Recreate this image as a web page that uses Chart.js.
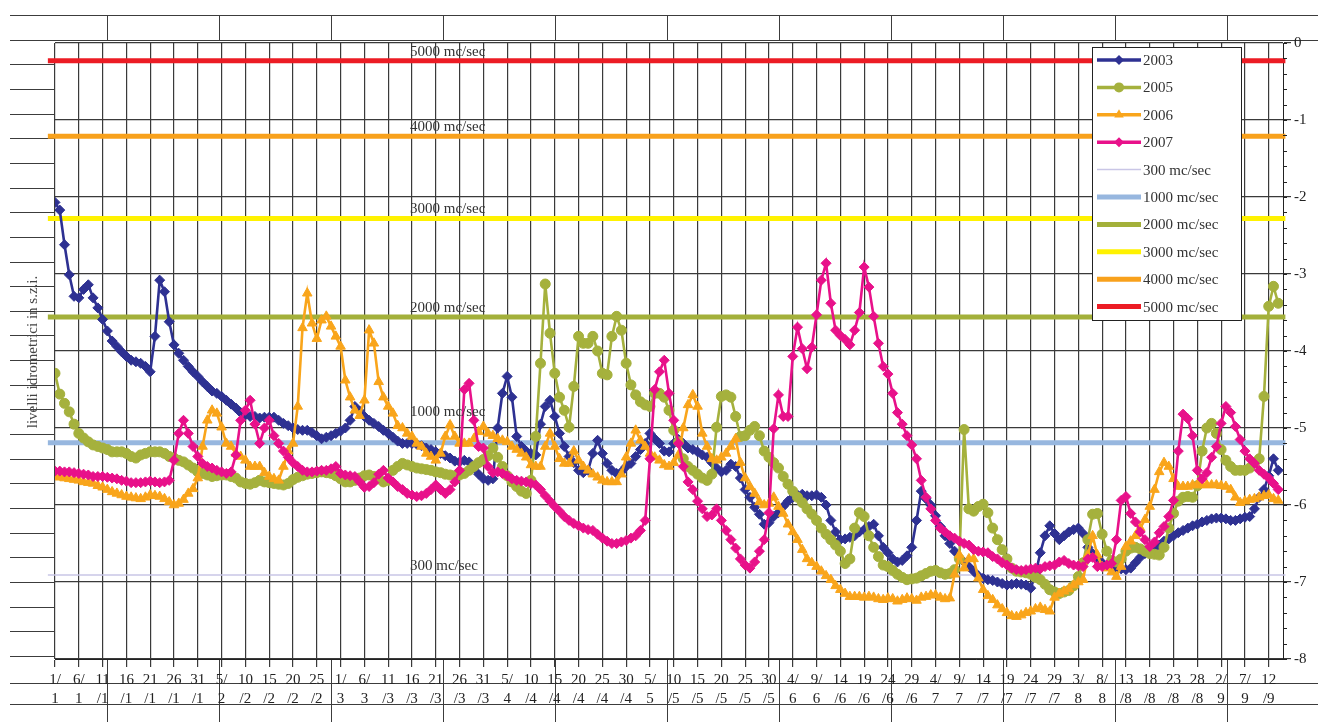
<!DOCTYPE html>
<html>
<head>
<meta charset="utf-8">
<script src="https://cdn.jsdelivr.net/npm/chart.js@4.4.1/dist/chart.umd.min.js"></script>
<style>
  html, body { margin: 0; padding: 0; background: #fff; }
  #wrap { width: 1318px; height: 722px; }
</style>
</head>
<body>
<div id="wrap"><canvas id="levels" width="1318" height="722"></canvas></div>
<script>
// date labels, one every 5 days starting from 1 January
const dateLabels = ['1/1','6/1','11/1','16/1','21/1','26/1','31/1','5/2','10/2','15/2','20/2','25/2',
  '1/3','6/3','11/3','16/3','21/3','26/3','31/3','5/4','10/4','15/4','20/4','25/4','30/4',
  '5/5','10/5','15/5','20/5','25/5','30/5','4/6','9/6','14/6','19/6','24/6','29/6',
  '4/7','9/7','14/7','19/7','24/7','29/7','3/8','8/8','13/8','18/8','23/8','28/8','2/9','7/9','12/9'];

// daily water levels (m), day 0 = 1 January
const y2003 = [
  -2.07,-2.17,-2.62,-3.01,-3.29,-3.31,-3.20,-3.14,-3.31,-3.44,
  -3.59,-3.74,-3.87,-3.94,-4.01,-4.07,-4.12,-4.14,-4.16,-4.20,
  -4.27,-3.81,-3.08,-3.23,-3.62,-3.92,-4.03,-4.12,-4.20,-4.27,
  -4.33,-4.40,-4.46,-4.52,-4.55,-4.59,-4.64,-4.69,-4.74,-4.80,
  -4.83,-4.85,-4.85,-4.87,-4.86,-4.86,-4.86,-4.90,-4.94,-4.97,
  -5.00,-5.02,-5.03,-5.03,-5.06,-5.10,-5.14,-5.12,-5.10,-5.07,
  -5.04,-5.00,-4.90,-4.72,-4.78,-4.85,-4.90,-4.94,-4.98,-5.03,
  -5.07,-5.12,-5.17,-5.20,-5.20,-5.20,-5.21,-5.23,-5.26,-5.28,
  -5.31,-5.33,-5.36,-5.39,-5.43,-5.44,-5.42,-5.44,-5.52,-5.60,
  -5.66,-5.68,-5.66,-5.00,-4.55,-4.33,-4.60,-5.11,-5.24,-5.30,
  -5.33,-5.35,-4.95,-4.72,-4.64,-4.85,-5.07,-5.24,-5.37,-5.45,
  -5.55,-5.58,-5.55,-5.33,-5.16,-5.33,-5.46,-5.55,-5.59,-5.57,
  -5.50,-5.46,-5.37,-5.28,-5.20,-5.07,-5.14,-5.20,-5.30,-5.31,
  -5.20,-5.15,-5.20,-5.26,-5.28,-5.31,-5.35,-5.38,-5.45,-5.52,
  -5.57,-5.55,-5.47,-5.50,-5.65,-5.80,-5.90,-6.03,-6.12,-6.25,
  -6.23,-6.15,-6.10,-6.02,-5.95,-5.90,-5.87,-5.86,-5.88,-5.88,
  -5.87,-5.90,-6.00,-6.20,-6.35,-6.45,-6.44,-6.42,-6.40,-6.35,
  -6.32,-6.28,-6.25,-6.40,-6.55,-6.62,-6.70,-6.74,-6.72,-6.66,
  -6.55,-6.20,-5.82,-5.92,-6.00,-6.14,-6.28,-6.40,-6.50,-6.60,
  -6.68,-6.74,-6.80,-6.86,-6.92,-6.95,-6.97,-6.98,-7.00,-7.02,
  -7.04,-7.03,-7.02,-7.03,-7.04,-7.08,-6.90,-6.62,-6.40,-6.27,
  -6.37,-6.45,-6.40,-6.35,-6.32,-6.30,-6.37,-6.55,-6.63,-6.70,
  -6.75,-6.78,-6.80,-6.82,-6.83,-6.84,-6.82,-6.75,-6.68,-6.63,
  -6.58,-6.55,-6.52,-6.47,-6.44,-6.40,-6.36,-6.33,-6.30,-6.27,
  -6.25,-6.22,-6.20,-6.18,-6.17,-6.17,-6.18,-6.20,-6.20,-6.18,
  -6.16,-6.15,-6.05,-5.90,-5.80,-5.62,-5.40,-5.55
];
const y2005 = [
  -4.29,-4.56,-4.68,-4.79,-4.95,-5.07,-5.13,-5.18,-5.22,-5.24,
  -5.26,-5.28,-5.31,-5.31,-5.31,-5.33,-5.37,-5.39,-5.35,-5.33,
  -5.31,-5.31,-5.31,-5.33,-5.37,-5.39,-5.42,-5.44,-5.48,-5.52,
  -5.57,-5.59,-5.61,-5.63,-5.62,-5.61,-5.61,-5.63,-5.65,-5.70,
  -5.72,-5.73,-5.71,-5.68,-5.70,-5.71,-5.72,-5.73,-5.74,-5.72,
  -5.67,-5.64,-5.62,-5.60,-5.59,-5.58,-5.57,-5.58,-5.59,-5.62,
  -5.66,-5.70,-5.70,-5.68,-5.65,-5.62,-5.61,-5.63,-5.66,-5.70,
  -5.68,-5.55,-5.50,-5.46,-5.48,-5.50,-5.52,-5.53,-5.54,-5.55,
  -5.57,-5.58,-5.60,-5.61,-5.62,-5.61,-5.59,-5.55,-5.50,-5.45,
  -5.41,-5.36,-5.26,-5.38,-5.50,-5.62,-5.70,-5.76,-5.82,-5.85,
  -5.68,-5.11,-4.16,-3.13,-3.77,-4.29,-4.60,-4.77,-4.99,-4.46,
  -3.81,-3.90,-3.90,-3.81,-4.00,-4.29,-4.31,-3.81,-3.55,-3.73,
  -4.16,-4.44,-4.57,-4.66,-4.70,-4.72,-4.55,-4.55,-4.60,-4.77,
  -5.03,-5.18,-5.40,-5.50,-5.55,-5.60,-5.65,-5.68,-5.60,-4.99,
  -4.59,-4.57,-4.60,-4.85,-5.11,-5.10,-5.03,-4.98,-5.10,-5.30,
  -5.38,-5.45,-5.52,-5.63,-5.73,-5.82,-5.90,-5.97,-6.05,-6.12,
  -6.20,-6.30,-6.38,-6.45,-6.52,-6.60,-6.76,-6.70,-6.30,-6.10,
  -6.15,-6.40,-6.55,-6.67,-6.78,-6.80,-6.85,-6.90,-6.94,-6.97,
  -6.96,-6.95,-6.92,-6.89,-6.86,-6.85,-6.88,-6.90,-6.89,-6.84,
  -6.70,-5.02,-6.05,-6.08,-6.02,-5.99,-6.10,-6.30,-6.45,-6.58,
  -6.70,-6.82,-6.86,-6.87,-6.88,-6.90,-6.94,-6.97,-7.03,-7.10,
  -7.13,-7.15,-7.13,-7.11,-7.05,-6.93,-6.75,-6.45,-6.12,-6.11,
  -6.38,-6.60,-6.72,-6.74,-6.70,-6.60,-6.56,-6.55,-6.57,-6.60,
  -6.63,-6.64,-6.65,-6.55,-6.30,-6.11,-5.95,-5.90,-5.89,-5.90,
  -5.75,-5.30,-5.00,-4.94,-5.07,-5.28,-5.42,-5.50,-5.55,-5.55,
  -5.55,-5.52,-5.45,-5.40,-4.59,-3.42,-3.16,-3.38
];
const y2006 = [
  -5.63,-5.64,-5.65,-5.66,-5.67,-5.68,-5.70,-5.71,-5.72,-5.75,
  -5.77,-5.80,-5.83,-5.85,-5.87,-5.89,-5.90,-5.91,-5.92,-5.90,
  -5.87,-5.88,-5.89,-5.92,-5.96,-6.00,-5.98,-5.93,-5.85,-5.79,
  -5.65,-5.24,-4.90,-4.77,-4.81,-4.99,-5.20,-5.24,-5.33,-5.37,
  -5.42,-5.50,-5.50,-5.50,-5.58,-5.63,-5.66,-5.68,-5.50,-5.30,
  -5.20,-4.72,-3.70,-3.25,-3.64,-3.84,-3.60,-3.55,-3.68,-3.81,
  -3.94,-4.38,-4.60,-4.77,-4.84,-4.64,-3.73,-3.90,-4.40,-4.60,
  -4.72,-4.81,-4.97,-5.00,-5.07,-5.11,-5.20,-5.24,-5.33,-5.37,
  -5.42,-5.33,-5.11,-4.96,-5.11,-5.20,-5.20,-5.20,-5.14,-5.05,
  -4.98,-5.07,-5.10,-5.14,-5.16,-5.18,-5.24,-5.28,-5.33,-5.38,
  -5.48,-5.50,-5.50,-5.24,-5.07,-5.24,-5.40,-5.46,-5.46,-5.30,
  -5.42,-5.50,-5.55,-5.60,-5.64,-5.68,-5.70,-5.70,-5.70,-5.60,
  -5.38,-5.20,-5.03,-5.16,-5.24,-5.33,-5.38,-5.42,-5.48,-5.50,
  -5.45,-5.35,-5.00,-4.70,-4.57,-4.72,-5.07,-5.24,-5.40,-5.42,
  -5.38,-5.33,-5.24,-5.14,-5.45,-5.65,-5.76,-5.85,-5.96,-6.00,
  -5.98,-5.90,-6.02,-6.11,-6.25,-6.35,-6.45,-6.58,-6.70,-6.75,
  -6.80,-6.86,-6.92,-6.97,-7.05,-7.10,-7.15,-7.19,-7.19,-7.19,
  -7.20,-7.19,-7.20,-7.22,-7.23,-7.21,-7.22,-7.25,-7.23,-7.21,
  -7.22,-7.24,-7.20,-7.19,-7.17,-7.17,-7.20,-7.22,-7.21,-6.90,
  -6.65,-6.82,-6.70,-6.70,-6.95,-7.10,-7.18,-7.23,-7.30,-7.35,
  -7.40,-7.44,-7.45,-7.43,-7.40,-7.38,-7.35,-7.33,-7.36,-7.38,
  -7.20,-7.15,-7.12,-7.09,-7.04,-7.00,-6.97,-6.65,-6.40,-6.65,
  -6.80,-6.82,-6.87,-6.93,-6.80,-6.54,-6.47,-6.40,-6.30,-6.19,
  -6.02,-5.80,-5.57,-5.45,-5.50,-5.66,-5.76,-5.76,-5.76,-5.74,
  -5.74,-5.74,-5.74,-5.74,-5.74,-5.75,-5.76,-5.80,-5.90,-5.97,
  -5.95,-5.93,-5.92,-5.90,-5.88,-5.87,-5.92,-5.94
];
const y2007 = [
  -5.56,-5.56,-5.57,-5.57,-5.58,-5.59,-5.60,-5.61,-5.63,-5.63,
  -5.63,-5.64,-5.65,-5.66,-5.68,-5.69,-5.71,-5.71,-5.71,-5.70,
  -5.69,-5.70,-5.71,-5.70,-5.68,-5.42,-5.07,-4.90,-5.07,-5.24,
  -5.37,-5.46,-5.50,-5.52,-5.55,-5.57,-5.59,-5.57,-5.35,-4.90,
  -4.77,-4.64,-4.95,-5.20,-5.00,-4.90,-5.10,-5.20,-5.30,-5.38,
  -5.45,-5.50,-5.55,-5.57,-5.57,-5.56,-5.55,-5.55,-5.53,-5.50,
  -5.59,-5.61,-5.62,-5.63,-5.70,-5.77,-5.76,-5.71,-5.60,-5.55,
  -5.65,-5.70,-5.76,-5.80,-5.85,-5.87,-5.89,-5.88,-5.85,-5.80,
  -5.74,-5.80,-5.85,-5.80,-5.70,-5.55,-4.50,-4.42,-4.90,-5.24,
  -5.26,-5.50,-5.58,-5.57,-5.59,-5.62,-5.66,-5.68,-5.69,-5.70,
  -5.72,-5.74,-5.80,-5.88,-5.95,-6.02,-6.08,-6.15,-6.20,-6.24,
  -6.27,-6.30,-6.32,-6.33,-6.38,-6.43,-6.47,-6.50,-6.50,-6.48,
  -6.46,-6.43,-6.40,-6.33,-6.20,-5.40,-4.50,-4.27,-4.12,-4.55,
  -4.90,-5.20,-5.50,-5.70,-5.80,-5.95,-6.05,-6.15,-6.13,-6.05,
  -6.20,-6.33,-6.45,-6.56,-6.70,-6.78,-6.82,-6.74,-6.60,-6.45,
  -6.10,-5.01,-4.57,-4.85,-4.85,-4.07,-3.69,-3.97,-4.23,-3.95,
  -3.53,-3.08,-2.86,-3.38,-3.73,-3.80,-3.85,-3.92,-3.73,-3.50,
  -2.91,-3.17,-3.55,-3.90,-4.20,-4.30,-4.55,-4.80,-4.95,-5.10,
  -5.22,-5.40,-5.68,-5.90,-6.05,-6.20,-6.30,-6.35,-6.40,-6.43,
  -6.47,-6.50,-6.52,-6.58,-6.60,-6.61,-6.62,-6.67,-6.70,-6.75,
  -6.78,-6.82,-6.84,-6.85,-6.84,-6.83,-6.82,-6.83,-6.80,-6.79,
  -6.78,-6.74,-6.72,-6.76,-6.78,-6.79,-6.80,-6.70,-6.68,-6.80,
  -6.80,-6.78,-6.76,-6.45,-5.94,-5.89,-6.11,-6.22,-6.35,-6.45,
  -6.54,-6.48,-6.36,-6.28,-6.15,-5.94,-5.30,-4.82,-4.88,-5.10,
  -5.55,-5.66,-5.58,-5.38,-5.24,-4.94,-4.72,-4.80,-4.98,-5.15,
  -5.30,-5.40,-5.46,-5.55,-5.60,-5.65,-5.72,-5.80
];

// flow reference levels
const refNames = ['300 mc/sec', '1000 mc/sec', '2000 mc/sec', '3000 mc/sec', '4000 mc/sec', '5000 mc/sec'];
const refLevels = [-6.91, -5.19, -3.56, -2.28, -1.21, -0.23];
const refColors = ['#c9c6e6', '#97b7df', '#a3b03a', '#fff200', '#f8a11c', '#ec1c24'];

const X_MAX = 258;
const serif = 'Liberation Serif, Times New Roman, serif';

function toPoints(arr) {
  return arr.map((v, i) => ({ x: i, y: v }));
}

const series = [
  { label: '2003', data: y2003, color: '#2e3192', style: 'rectRot', r: 5, order: 4 },
  { label: '2005', data: y2005, color: '#a5b13d', style: 'circle', r: 5, order: 3 },
  { label: '2006', data: y2006, color: '#f9a51b', style: 'triangle', r: 5.5, order: 2 },
  { label: '2007', data: y2007, color: '#e8118a', style: 'rectRot', r: 5, order: 1 }
];

const datasets = series.map(s => ({
  label: s.label,
  data: toPoints(s.data),
  borderColor: s.color,
  backgroundColor: s.color,
  borderWidth: 2.6,
  pointStyle: s.style,
  pointRadius: s.r,
  pointBorderWidth: 1,
  pointBackgroundColor: s.color,
  pointBorderColor: s.color,
  tension: 0,
  order: s.order
}));

refNames.forEach((name, i) => {
  datasets.push({
    label: name,
    data: [{ x: -1.5, y: refLevels[i] }, { x: X_MAX + 0.5, y: refLevels[i] }],
    borderColor: refColors[i],
    backgroundColor: refColors[i],
    borderWidth: i === 0 ? 1.5 : 5,
    pointRadius: 0,
    clip: false,
    order: 5
  });
});

// background table lines of the scanned page
const pageLines = {
  id: 'pageLines',
  beforeDraw(chart) {
    const ctx = chart.ctx;
    const a = chart.chartArea;
    ctx.save();
    ctx.fillStyle = '#fff';
    ctx.fillRect(0, 0, chart.width, chart.height);
    ctx.strokeStyle = '#3c3c3c';
    ctx.lineWidth = 1;
    ctx.beginPath();
    for (let k = 0; k <= 26; k++) {
      const y = Math.round(15 + k * 24.65) + 0.5;
      ctx.moveTo(10, y);
      ctx.lineTo(a.left, y);
    }
    [15.5, 40.5, 683.5, 704.5].forEach(y => {
      ctx.moveTo(10, y);
      ctx.lineTo(chart.width, y);
    });
    for (let x = 107.5; x < chart.width; x += 112) {
      ctx.moveTo(x, 15);
      ctx.lineTo(x, 40);
      ctx.moveTo(x, a.bottom);
      ctx.lineTo(x, chart.height);
    }
    ctx.stroke();
    ctx.restore();
  }
};

function drawMarker(ctx, style, x, y, r) {
  ctx.beginPath();
  if (style === 'circle') {
    ctx.arc(x, y, r, 0, Math.PI * 2);
  } else if (style === 'triangle') {
    ctx.moveTo(x, y - r);
    ctx.lineTo(x + r * 0.87, y + r * 0.5);
    ctx.lineTo(x - r * 0.87, y + r * 0.5);
    ctx.closePath();
  } else {
    ctx.moveTo(x, y - r);
    ctx.lineTo(x + r, y);
    ctx.lineTo(x, y + r);
    ctx.lineTo(x - r, y);
    ctx.closePath();
  }
  ctx.fill();
}

// texts on the reference lines, axis title, legend, minor ticks
const overlay = {
  id: 'overlay',
  afterDatasetsDraw(chart) {
    const ctx = chart.ctx;
    const a = chart.chartArea;
    const yScale = chart.scales.y;
    ctx.save();

    // labels on the flow lines
    ctx.font = '15px ' + serif;
    ctx.fillStyle = '#333';
    ctx.textAlign = 'left';
    ctx.textBaseline = 'middle';
    refLevels.forEach((lvl, i) => {
      const off = refNames[i] === '1000 mc/sec' ? 31 : 9;
      ctx.fillText(refNames[i], 410, yScale.getPixelForValue(lvl) - off);
    });

    // minor ticks on the right axis
    ctx.strokeStyle = '#222';
    ctx.lineWidth = 1;
    ctx.beginPath();
    for (let v = -8; v <= 0.001; v += 0.2) {
      const yy = Math.round(yScale.getPixelForValue(v)) + 0.5;
      ctx.moveTo(a.right, yy);
      ctx.lineTo(a.right + 4, yy);
    }
    ctx.stroke();

    // left axis title
    ctx.save();
    ctx.translate(33, 352);
    ctx.rotate(-Math.PI / 2);
    ctx.font = '15px ' + serif;
    ctx.fillStyle = '#444';
    ctx.textAlign = 'center';
    ctx.fillText('livelli idrometrici in s.z.i.', 0, 0);
    ctx.restore();

    // legend box
    const x0 = a.right - 191, y0 = a.top + 4, w = 149, h = 273;
    ctx.fillStyle = '#fff';
    ctx.fillRect(x0, y0, w, h);
    ctx.strokeStyle = '#222';
    ctx.strokeRect(x0 + 0.5, y0 + 0.5, w, h);
    chart.data.datasets.forEach((ds, i) => {
      const cy = y0 + 13 + i * 27.4;
      ctx.strokeStyle = ds.borderColor;
      ctx.lineWidth = ds.pointRadius > 0 ? 3.5 : ds.borderWidth;
      ctx.beginPath();
      ctx.moveTo(x0 + 5, cy);
      ctx.lineTo(x0 + 49, cy);
      ctx.stroke();
      if (ds.pointRadius > 0) {
        ctx.fillStyle = ds.borderColor;
        drawMarker(ctx, ds.pointStyle, x0 + 27, cy, ds.pointRadius);
      }
      ctx.fillStyle = '#333';
      ctx.font = '15px ' + serif;
      ctx.textAlign = 'left';
      ctx.fillText(ds.label, x0 + 51, cy + 1);
    });
    ctx.restore();
  }
};

const chart = new Chart(document.getElementById('levels'), {
  type: 'line',
  data: { datasets: datasets },
  options: {
    responsive: false,
    animation: false,
    layout: { padding: { left: 55, top: 43, right: 0, bottom: 0 } },
    plugins: {
      legend: { display: false },
      tooltip: { enabled: false }
    },
    scales: {
      x: {
        type: 'linear',
        min: 0,
        max: X_MAX,
        afterFit: (scale) => { scale.height = 63; },
        ticks: {
          stepSize: 5,
          autoSkip: false,
          includeBounds: false,
          maxRotation: 0,
          padding: 4,
          color: '#222',
          font: { family: serif, size: 15, lineHeight: 1.25 },
          callback: (v) => {
            const s = dateLabels[v / 5];
            if (!s) return '';
            const parts = s.split('/');
            return parts[0].length === 1 ? [parts[0] + '/', parts[1]] : [parts[0], '/' + parts[1]];
          }
        },
        grid: { color: '#3a3a3a', lineWidth: 1.2, tickLength: 8 },
        border: { display: true, color: '#222', width: 1 }
      },
      y: {
        position: 'right',
        min: -8,
        max: 0,
        afterFit: (scale) => { scale.width = 35; },
        ticks: {
          stepSize: 1,
          padding: 3,
          color: '#222',
          font: { family: serif, size: 15 },
          callback: (v) => String(v)
        },
        grid: { color: '#3a3a3a', lineWidth: 1.2, tickLength: 8 },
        border: { display: true, color: '#222', width: 1 }
      }
    }
  },
  plugins: [pageLines, overlay]
});
</script>
</body>
</html>
